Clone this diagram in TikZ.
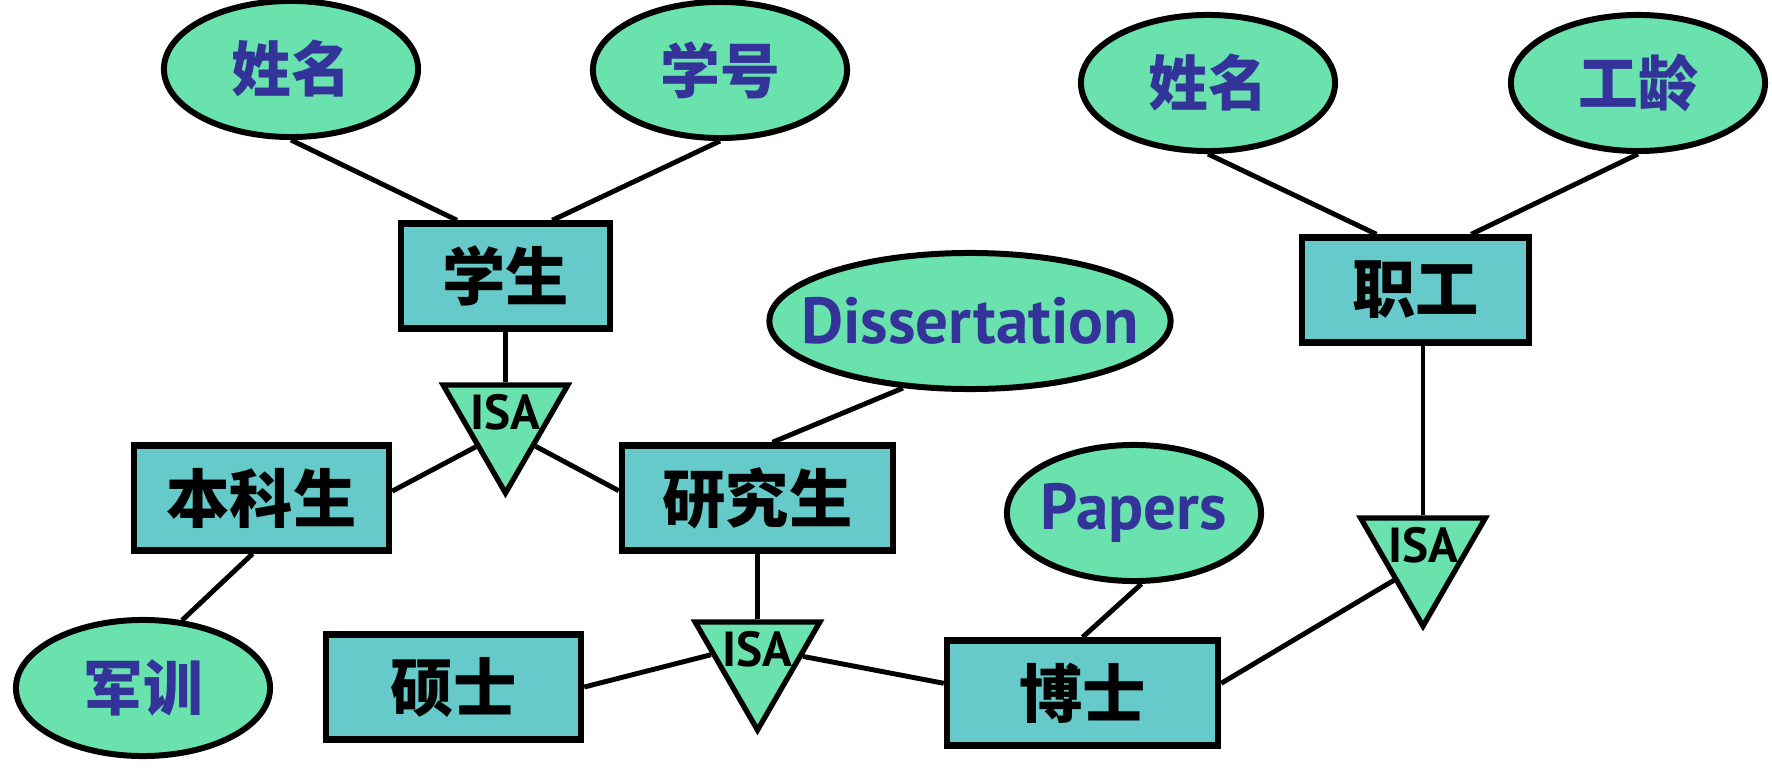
\documentclass[tikz,border=0pt]{standalone}
\usepackage{fontspec}
\setmainfont{PT Sans}
\newfontfamily\cjk{Noto Sans CJK SC}
\usepackage{tikz}
\usetikzlibrary{shapes.geometric}

\definecolor{attrgreen}{HTML}{69E2AE}
\definecolor{entteal}{HTML}{66C9CA}
\definecolor{attrblue}{HTML}{333399}

\begin{document}
\begin{tikzpicture}[x=0.01cm, y=-0.01cm,
    ent/.style={draw, line width=1.8pt, fill=entteal, minimum height=1.05cm,
                inner sep=0pt, font=\cjk\bfseries\fontsize{18}{18}\selectfont},
    attr/.style={ellipse, draw, line width=1.7pt, fill=attrgreen,
                 minimum width=2.54cm, minimum height=1.36cm, inner sep=0pt,
                 text=attrblue, font=\cjk\bfseries\fontsize{17}{17}\selectfont},
    attrtxt/.style={attr, font=\bfseries\fontsize{18.5}{18.5}\selectfont},
    isa/.style={regular polygon, regular polygon sides=3, shape border rotate=180,
                draw, line width=1.5pt, fill=attrgreen, minimum size=1.44cm, inner sep=0pt,
                label={[font=\bfseries\fontsize{14}{14}\selectfont, yshift=0.9mm]center:ISA}},
    link/.style={line width=1.4pt},
  ]
    \useasboundingbox (0,0) rectangle (1772,776);

    % attributes
    \node[attr] (nameL) at (291,69)  {姓名};
    \node[attr] (sno)   at (720,70)  {学号};
    \node[attr] (nameR) at (1208,83) {姓名};
    \node[attr] (age)   at (1638,83) {工龄};
    \node[attrtxt, minimum width=4.01cm] (diss) at (970,321) {\makebox[0pt]{Dissertation}};
    \node[attrtxt] (papers) at (1134,513) {\makebox[0pt]{Papers}};
    \node[attr] (drill) at (143,688) {军训};

    % entities
    \node[ent, minimum width=2.09cm] (stu)   at (505.5,276)  {学生};
    \node[ent, minimum width=2.27cm] (staff) at (1415.5,290) {职工};
    \node[ent, minimum width=2.55cm] (ug)    at (261.5,498)  {本科生};
    \node[ent, minimum width=2.71cm] (grad)  at (757.5,498)  {研究生};
    \node[ent, minimum width=2.55cm] (ms)    at (453.5,687)  {硕士};
    \node[ent, minimum width=2.71cm] (phd)   at (1082.5,693) {博士};

    % ISA triangles
    \node[isa] (isa1) at (505.5,421) {};
    \node[isa] (isa2) at (757.5,658) {};
    \node[isa] (isa3) at (1423,554)  {};

    % student attributes and subclasses
    \draw[link] (nameL.south) -- (stu.131);
    \draw[link] (sno.south) -- (stu.50);
    \draw[link] (stu.south) -- (isa1.north);
    \draw[link] (isa1.221) -- (ug.3);
    \draw[link] (isa1.320) -- (grad.177);
    \draw[link] (diss.225) -- (grad.75);
    \draw[link] (ug.261) -- (drill.60);

    % graduate subclasses
    \draw[link] (grad.south) -- (isa2.north);
    \draw[link] (ms.east) -- (isa2.176);
    \draw[link] (isa2.2) -- (phd.176);
    \draw[link] (papers.276) -- (phd.north);

    % staff
    \draw[link] (nameR.south) -- (staff.125);
    \draw[link] (age.south) -- (staff.45);
    \draw[link] (isa3.north) -- (isa3.north |- staff.south);
    \draw[link] (phd.4) -- (isa3.222);
  \end{tikzpicture}
\end{document}
